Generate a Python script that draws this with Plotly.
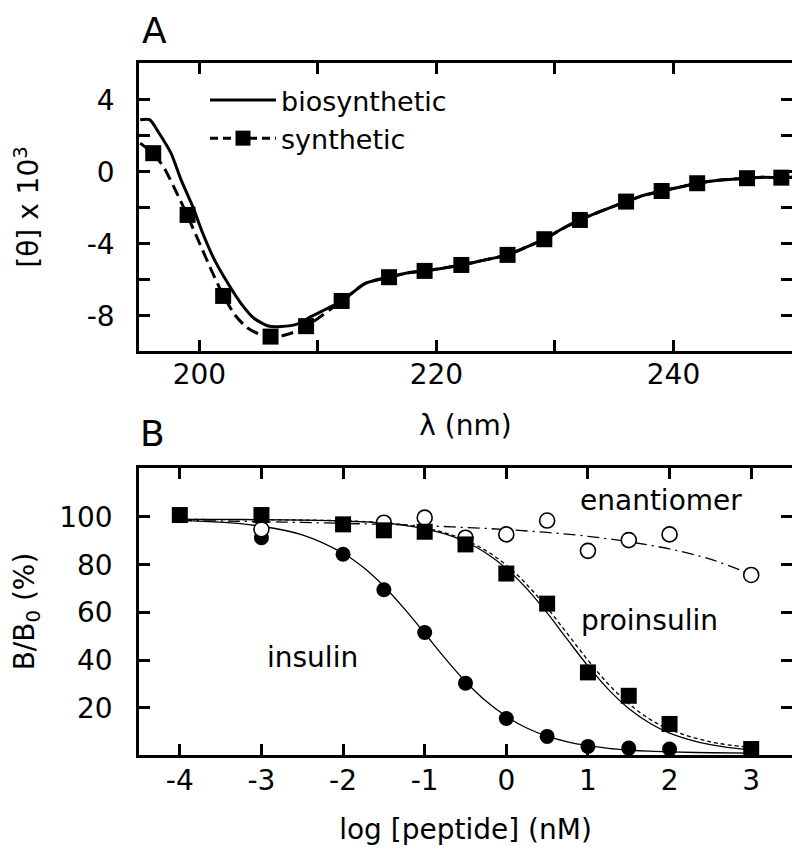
import plotly.graph_objects as go

# ---------------- Panel A data (CD spectra) ----------------
wl_bio = [195.0, 195.8, 196.6, 197.6, 198.45, 199.44, 200.28, 201.27, 202.4, 203.5, 204.6,
          205.8, 206.9, 208.3, 209.4, 212.0, 214.0, 216.0, 217.4, 219.0, 222.1, 224.0,
          226.0, 227.5, 229.1, 230.5, 232.1, 234.0, 236.0, 237.5, 239.0, 240.5, 242.0,
          244.0, 246.2, 247.5, 249.1, 250.0]
theta_bio = [2.9, 2.9, 2.15, 1.04, -0.44, -1.93, -3.41, -4.89, -6.19, -7.3, -8.13,
             -8.56, -8.59, -8.44, -8.04, -7.17, -6.19, -5.85, -5.63, -5.5, -5.17, -4.9,
             -4.61, -4.2, -3.74, -3.2, -2.67, -2.15, -1.65, -1.3, -1.06, -0.85, -0.63,
             -0.45, -0.35, -0.3, -0.32, -0.3]

wl_syn_line = [195.0, 196.06, 197.0, 198.0, 199.0, 200.0, 201.0, 202.0, 203.0, 204.0, 205.0,
               206.0, 207.0, 208.0, 209.0, 212.0, 214.0, 216.0, 217.4, 219.0, 222.1, 224.0,
               226.0, 227.5, 229.1, 230.5, 232.1, 234.0, 236.0, 237.5, 239.0, 240.5, 242.0,
               244.0, 246.2, 247.5, 249.1, 250.0]
theta_syn_line = [1.6, 1.04, 0.25, -1.05, -2.45, -3.95, -5.45, -6.85, -7.95, -8.65, -9.0,
                  -9.15, -9.1, -8.9, -8.6, -7.17, -6.19, -5.85, -5.63, -5.5, -5.17, -4.9,
                  -4.61, -4.2, -3.74, -3.2, -2.67, -2.15, -1.65, -1.3, -1.06, -0.85, -0.63,
                  -0.45, -0.35, -0.3, -0.32, -0.3]

wl_syn_pts = [196.1, 199.0, 202.0, 206.0, 209.0, 212.0, 216.0, 219.0, 222.1, 226.0, 229.1,
              232.1, 236.0, 239.0, 242.0, 246.2, 249.1]
theta_syn_pts = [1.04, -2.39, -6.89, -9.15, -8.57, -7.17, -5.85, -5.5, -5.17, -4.61, -3.74,
                 -2.67, -1.65, -1.06, -0.63, -0.35, -0.32]

# ---------------- Panel B data (binding) ----------------
log_ins = [-3, -2, -1.5, -1, -0.5, 0, 0.5, 1, 1.5, 2]
bb_ins = [91.3, 84.4, 69.5, 51.6, 30.4, 15.6, 8.1, 3.9, 3.2, 2.8]

log_pro = [-4, -3, -2, -1.5, -1, -0.5, 0, 0.5, 1, 1.5, 2, 3]
bb_pro = [100.8, 100.8, 96.9, 94.4, 93.8, 88.5, 76.3, 63.7, 34.9, 25.1, 13.3, 2.8]

log_ent = [-3, -1.5, -1, -0.5, 0, 0.5, 1, 1.5, 2, 3]
bb_ent = [94.8, 97.6, 99.7, 91.3, 92.7, 98.5, 85.8, 90.3, 92.7, 75.7]

log_fit = [-4, -3.5, -3, -2.5, -2, -1.75, -1.5, -1.25, -1, -0.75, -0.5, -0.25, 0, 0.25,
           0.5, 0.75, 1, 1.25, 1.5, 1.75, 2, 2.5, 3]
fit_ins = [98.5, 97.8, 96.1, 92.5, 84.8, 78.8, 71.0, 61.6, 51.3, 40.8, 31.1, 22.9, 16.5, 11.6,
           8.2, 5.8, 4.2, 3.1, 2.4, 1.9, 1.6, 1.25, 1.1]
fit_pro = [99.0, 98.95, 98.9, 98.7, 98.35, 97.95, 97.4, 96.5, 95.0, 92.9, 89.6, 84.9, 78.4, 70.0,
           59.8, 48.6, 37.6, 27.8, 19.8, 13.8, 9.5, 4.6, 2.45]
fit_pro2 = [98.95, 98.9, 98.85, 98.7, 98.4, 98.06, 97.5, 96.7, 95.35, 93.35, 90.3, 85.9, 79.8, 71.7,
            61.9, 51.0, 40.0, 30.0, 21.8, 15.5, 11.0, 5.8, 3.5]
log_ent_fit = [-4, -3.5, -3, -2.5, -2, -1.5, -1, -0.5, 0, 0.5, 1, 1.5, 2, 2.5, 3]
fit_ent = [98.5, 98.3, 98.0, 97.7, 97.3, 96.9, 96.3, 95.6, 94.7, 93.5, 91.9, 89.6, 86.6, 82.3, 76.0]

A_xticks = [200, 220, 240]
A_xlabels = ["200", "220", "240"]
A_yticks = [-8, -4, 0, 4]
A_ylabels = ["-8", "-4", "0", "4"]
B_xticks = [-4, -3, -2, -1, 0, 1, 2, 3]
B_xlabels = ["-4", "-3", "-2", "-1", "0", "1", "2", "3"]
B_yticks = [20, 40, 60, 80, 100]
B_ylabels = ["20", "40", "60", "80", "100"]

FONT = "DejaVu Sans, Liberation Sans, Arial, sans-serif"
OFF = 8                      # default page margin of the html body
W, H = 800 - OFF, 855 - OFF  # figure fits exactly inside the window
def px(x):
    return (x - OFF) / W
def py(y):
    return 1 - (y - OFF) / H

fig = go.Figure()

# Panel A
fig.add_trace(go.Scatter(x=wl_bio, y=theta_bio, mode="lines", name="biosynthetic",
                         line=dict(color="black", width=3, shape="spline", smoothing=0.6),
                         xaxis="x", yaxis="y", showlegend=True))
fig.add_trace(go.Scatter(x=wl_syn_line, y=theta_syn_line, mode="lines", name="synthetic",
                         line=dict(color="black", width=3, dash="12px,6px", shape="spline", smoothing=0.6),
                         xaxis="x", yaxis="y", showlegend=False))
fig.add_trace(go.Scatter(x=wl_syn_pts, y=theta_syn_pts, mode="markers", name="synthetic",
                         marker=dict(symbol="square", size=16, color="black"),
                         xaxis="x", yaxis="y", showlegend=False))
# legend-only entry for the synthetic series (dashed line + square)
fig.add_trace(go.Scatter(x=[None], y=[None], mode="lines+markers", name="synthetic",
                         line=dict(color="black", width=3, dash="8px,5px"),
                         marker=dict(symbol="square", size=15, color="black"),
                         xaxis="x", yaxis="y", showlegend=True))

# Panel B fits
fig.add_trace(go.Scatter(x=log_ent_fit, y=fit_ent, mode="lines", showlegend=False,
                         line=dict(color="black", width=1.3, dash="12px,5px,2px,5px", shape="spline"),
                         xaxis="x2", yaxis="y2"))
fig.add_trace(go.Scatter(x=log_fit, y=fit_pro2, mode="lines", showlegend=False,
                         line=dict(color="black", width=1.3, dash="4px,3px", shape="spline"),
                         xaxis="x2", yaxis="y2"))
fig.add_trace(go.Scatter(x=log_fit, y=fit_pro, mode="lines", showlegend=False,
                         line=dict(color="black", width=1.3, shape="spline"),
                         xaxis="x2", yaxis="y2"))
fig.add_trace(go.Scatter(x=log_fit, y=fit_ins, mode="lines", showlegend=False,
                         line=dict(color="black", width=1.3, shape="spline"),
                         xaxis="x2", yaxis="y2"))
# Panel B data points
fig.add_trace(go.Scatter(x=log_ins, y=bb_ins, mode="markers", name="insulin", showlegend=False,
                         marker=dict(symbol="circle", size=15, color="black"),
                         xaxis="x2", yaxis="y2"))
fig.add_trace(go.Scatter(x=log_ent, y=bb_ent, mode="markers", name="enantiomer", showlegend=False,
                         marker=dict(symbol="circle", size=15, color="white",
                                     line=dict(color="black", width=1.6)),
                         xaxis="x2", yaxis="y2"))
fig.add_trace(go.Scatter(x=log_pro, y=bb_pro, mode="markers", name="proinsulin", showlegend=False,
                         marker=dict(symbol="square", size=16, color="black"),
                         xaxis="x2", yaxis="y2"))

axis_common = dict(showline=True, linecolor="black", linewidth=2.5, mirror="ticks",
                   ticks="inside", ticklen=11, tickwidth=2.5, tickcolor="black",
                   showgrid=False, zeroline=False, automargin=False,
                   tickfont=dict(family=FONT, size=28, color="black"))
title_font = dict(family=FONT, size=28, color="black")

fig.update_layout(
    width=W, height=H,
    margin=dict(l=0, r=0, t=0, b=0),
    paper_bgcolor="white", plot_bgcolor="white",
    font=dict(family=FONT, size=28, color="black"),
    xaxis=dict(domain=[px(139), px(792)], range=[194.9, 250.0], anchor="y",
               tickmode="array", tickvals=A_xticks, ticktext=A_xlabels, ticklabelstandoff=-3,
               title=dict(text="λ (nm)", font=title_font, standoff=26),
               minor=dict(dtick=10, tick0=200, ticks="inside", ticklen=11, tickwidth=2.5,
                          tickcolor="black", showgrid=False),
               **axis_common),
    yaxis=dict(domain=[py(351), py(63)], range=[-9.95, 6.05], anchor="x",
               tickmode="array", tickvals=A_yticks, ticktext=A_ylabels, ticklabelstandoff=16,
               title=dict(text="[θ] x 10<sup>3</sup>", font=title_font, standoff=40),
               minor=dict(dtick=2, tick0=0, ticks="inside", ticklen=11, tickwidth=2.5,
                          tickcolor="black", showgrid=False),
               **axis_common),
    xaxis2=dict(domain=[px(139), px(792)], range=[-4.5, 3.5], anchor="y2",
                tickmode="array", tickvals=B_xticks, ticktext=B_xlabels, ticklabelstandoff=-1,
                title=dict(text="log [peptide] (nM)", font=title_font, standoff=24),
                **axis_common),
    yaxis2=dict(domain=[py(755), py(468)], range=[0.3, 120.5], anchor="x2",
                tickmode="array", tickvals=B_yticks, ticktext=B_ylabels, ticklabelstandoff=18,
                title=dict(text="B/B<sub>0</sub> (%)", font=title_font, standoff=40),
                **axis_common),
    legend=dict(x=px(205), y=py(76), xanchor="left", yanchor="top",
                bgcolor="rgba(0,0,0,0)", borderwidth=0, itemwidth=66,
                font=dict(family=FONT, size=27, color="black"), tracegroupgap=0),
)

annots = [
    dict(text="A", x=px(154), y=py(31), font=dict(size=36)),
    dict(text="B", x=px(152), y=py(433), font=dict(size=36)),
]
for a in annots:
    fig.add_annotation(xref="paper", yref="paper", showarrow=False,
                       xanchor="center", yanchor="middle", **a)

for t, x, y in [("enantiomer", 1.9, 106.7), ("proinsulin", 1.75, 56.5), ("insulin", -2.38, 41.0)]:
    fig.add_annotation(xref="x2", yref="y2", x=x, y=y, text=t, showarrow=False,
                       xanchor="center", yanchor="middle", font=dict(size=28))

fig.write_html("out.html")
